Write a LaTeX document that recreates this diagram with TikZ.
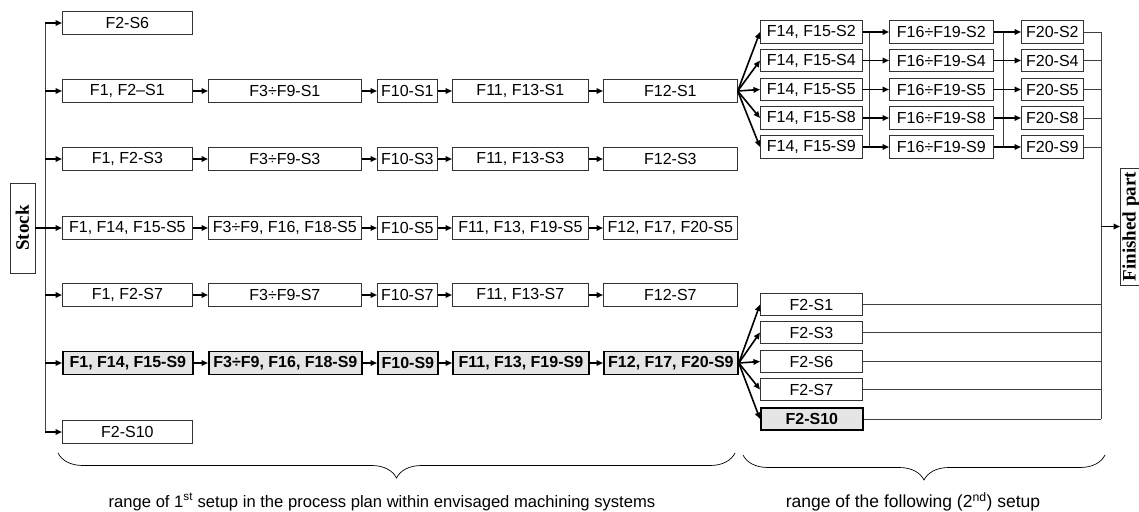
\documentclass[tikz,border=0pt]{standalone}
\usepackage{fontspec}
\setmainfont{Liberation Sans}
\newfontfamily\serifface{Liberation Serif}
\usetikzlibrary{arrows.meta,decorations.pathreplacing}

\tikzset{
  op/.style={draw=black!80, line width=0.7pt, anchor=west, inner sep=0pt,
    minimum height=23pt, font=\fontsize{16}{16}\selectfont},
  opbest/.style={op, draw=black, line width=1.8pt, fill=black!10,
    font=\fontsize{16}{16}\selectfont\bfseries},
  endbox/.style={draw=black!80, line width=0.7pt, rotate=90, inner sep=2pt,
    font=\serifface\bfseries\fontsize{19}{19}\selectfont},
  flow/.style={line width=1.6pt, -{Triangle[length=6.5pt,width=5.5pt]}},
  bus/.style={line width=0.7pt, draw=black!75},
  rng/.style={decorate, decoration={brace, amplitude=25pt, mirror}, line width=0.7pt},
}

\begin{document}
\begin{tikzpicture}[x=1pt, y=-1pt]
  \clip (0,0) rectangle (1139,511);
  % stock and first setup
  \node[endbox, minimum width=90pt, minimum height=25pt, inner sep=0pt] (stock) at (22.5,228) {Stock};
  \node[op, minimum width=130pt] (s6) at (62,23) {F2-S6};

  \node[op, minimum width=130pt] (s1a) at (62,91) {F1, F2--S1};
  \node[op, minimum width=153pt] (s1b) at (208,91) {F3÷F9-S1};
  \node[op, minimum width=60pt] (s1c) at (377,91) {F10-S1};
  \node[op, minimum width=136pt] (s1d) at (452,91) {F11, F13-S1};
  \node[op, minimum width=134pt] (s1e) at (603,91) {F12-S1};

  \node[op, minimum width=130pt] (s3a) at (62,159) {F1, F2-S3};
  \node[op, minimum width=153pt] (s3b) at (208,159) {F3÷F9-S3};
  \node[op, minimum width=60pt] (s3c) at (377,159) {F10-S3};
  \node[op, minimum width=136pt] (s3d) at (452,159) {F11, F13-S3};
  \node[op, minimum width=134pt] (s3e) at (603,159) {F12-S3};

  \node[op, minimum width=130pt] (s5a) at (62,228) {F1, F14, F15-S5};
  \node[op, minimum width=153pt] (s5b) at (208,228) {F3÷F9, F16, F18-S5};
  \node[op, minimum width=60pt] (s5c) at (377,228) {F10-S5};
  \node[op, minimum width=136pt] (s5d) at (452,228) {F11, F13, F19-S5};
  \node[op, minimum width=134pt] (s5e) at (603,228) {F12, F17, F20-S5};

  \node[op, minimum width=130pt] (s7a) at (62,295) {F1, F2-S7};
  \node[op, minimum width=153pt] (s7b) at (208,295) {F3÷F9-S7};
  \node[op, minimum width=60pt] (s7c) at (377,295) {F10-S7};
  \node[op, minimum width=136pt] (s7d) at (452,295) {F11, F13-S7};
  \node[op, minimum width=134pt] (s7e) at (603,295) {F12-S7};

  \node[opbest, minimum width=130pt] (s9a) at (62,363) {F1, F14, F15-S9};
  \node[opbest, minimum width=153pt] (s9b) at (208,363) {F3÷F9, F16, F18-S9};
  \node[opbest, minimum width=60pt] (s9c) at (377,363) {F10-S9};
  \node[opbest, minimum width=136pt] (s9d) at (452,363) {F11, F13, F19-S9};
  \node[opbest, minimum width=134pt] (s9e) at (603,363) {F12, F17, F20-S9};

  \node[op, minimum width=130pt] (s10) at (62,432) {F2-S10};

  % second setup, upper group
  \node[op, minimum width=102pt, minimum height=22.5pt] (t2a) at (760,32) {F14, F15-S2};
  \node[op, minimum width=104pt, minimum height=22.5pt] (t2b) at (889,32) {F16÷F19-S2};
  \node[op, minimum width=62pt, minimum height=22.5pt] (t2c) at (1021,32) {F20-S2};
  \node[op, minimum width=102pt, minimum height=22.5pt] (t4a) at (760,60.5) {F14, F15-S4};
  \node[op, minimum width=104pt, minimum height=22.5pt] (t4b) at (889,60.5) {F16÷F19-S4};
  \node[op, minimum width=62pt, minimum height=22.5pt] (t4c) at (1021,60.5) {F20-S4};
  \node[op, minimum width=102pt, minimum height=22.5pt] (t5a) at (760,89.5) {F14, F15-S5};
  \node[op, minimum width=104pt, minimum height=22.5pt] (t5b) at (889,89.5) {F16÷F19-S5};
  \node[op, minimum width=62pt, minimum height=22.5pt] (t5c) at (1021,89.5) {F20-S5};
  \node[op, minimum width=102pt, minimum height=22.5pt] (t8a) at (760,118) {F14, F15-S8};
  \node[op, minimum width=104pt, minimum height=22.5pt] (t8b) at (889,118) {F16÷F19-S8};
  \node[op, minimum width=62pt, minimum height=22.5pt] (t8c) at (1021,118) {F20-S8};
  \node[op, minimum width=102pt, minimum height=22.5pt] (t9a) at (760,147) {F14, F15-S9};
  \node[op, minimum width=104pt, minimum height=22.5pt] (t9b) at (889,147) {F16÷F19-S9};
  \node[op, minimum width=62pt, minimum height=22.5pt] (t9c) at (1021,147) {F20-S9};

  % second setup, lower group
  \node[op, minimum width=102pt, minimum height=22.5pt] (b1) at (760,304.5) {F2-S1};
  \node[op, minimum width=102pt, minimum height=22.5pt] (b3) at (760,332.5) {F2-S3};
  \node[op, minimum width=102pt, minimum height=22.5pt] (b6) at (760,361.5) {F2-S6};
  \node[op, minimum width=102pt, minimum height=22.5pt] (b7) at (760,389.5) {F2-S7};
  \node[opbest, minimum width=102pt, minimum height=22.5pt] (b10) at (760,419) {F2-S10};

  \node[endbox, minimum width=117pt, anchor=north] (fin) at (1120,226.5) {Finished part};

  % left bus
  \coordinate (lt) at (45,23);
  \coordinate (lb) at (45,432);
  \draw[bus] (lt) -- (lb);
  \draw[flow] (lt) -- (s6.west);
  \draw[flow] (s1a -| lt) -- (s1a.west);
  \draw[flow] (s3a -| lt) -- (s3a.west);
  \draw[flow] (stock) -- (s5a);
  \draw[flow] (s7a -| lt) -- (s7a.west);
  \draw[flow] (s9a -| lt) -- (s9a.west);
  \draw[flow] (lb) -- (s10.west);

  % rows
  \draw[flow] (s1a) -- (s1b);
  \draw[flow] (s1b) -- (s1c);
  \draw[flow] (s1c) -- (s1d);
  \draw[flow] (s1d) -- (s1e);
  \draw[flow] (s3a) -- (s3b);
  \draw[flow] (s3b) -- (s3c);
  \draw[flow] (s3c) -- (s3d);
  \draw[flow] (s3d) -- (s3e);
  \draw[flow] (s5a) -- (s5b);
  \draw[flow] (s5b) -- (s5c);
  \draw[flow] (s5c) -- (s5d);
  \draw[flow] (s5d) -- (s5e);
  \draw[flow] (s7a) -- (s7b);
  \draw[flow] (s7b) -- (s7c);
  \draw[flow] (s7c) -- (s7d);
  \draw[flow] (s7d) -- (s7e);
  \draw[flow] (s9a) -- (s9b);
  \draw[flow] (s9b) -- (s9c);
  \draw[flow] (s9c) -- (s9d);
  \draw[flow] (s9d) -- (s9e);

  % fans into the second setup
  \draw[flow] (s1e.east) -- (t2a.west);
  \draw[flow] (s1e.east) -- (t4a.west);
  \draw[flow] (s1e.east) -- (t5a.west);
  \draw[flow] (s1e.east) -- (t8a.west);
  \draw[flow] (s1e.east) -- (t9a.west);
  \draw[flow] (s9e.east) -- (b1.west);
  \draw[flow] (s9e.east) -- (b3.west);
  \draw[flow] (s9e.east) -- (b6.west);
  \draw[flow] (s9e.east) -- (b7.west);
  \draw[flow] (s9e.east) -- (b10.west);

  % upper group buses
  \coordinate (m1t) at (869,32);
  \coordinate (m1b) at (869,147);
  \coordinate (m2t) at (1003,32);
  \coordinate (m2b) at (1003,147);
  \draw[bus] (m1t) -- (m1b);
  \draw[bus] (m2t) -- (m2b);
  \draw[flow] (t2a) -- (t2b);
  \draw[flow] (t4a) -- (t4b);
  \draw[flow] (t5a) -- (t5b);
  \draw[flow] (t8a) -- (t8b);
  \draw[flow] (t9a) -- (t9b);
  \draw[flow] (t2b) -- (t2c);
  \draw[flow] (t4b) -- (t4c);
  \draw[flow] (t5b) -- (t5c);
  \draw[flow] (t8b) -- (t8c);
  \draw[flow] (t9b) -- (t9c);

  % right bus
  \coordinate (rt) at (1101,32);
  \coordinate (rb) at (1101,419);
  \draw[bus] (rt) -- (rb);
  \draw[bus] (t2c.east) -- (rt);
  \draw[bus] (t4c.east) -- (t4c -| rt);
  \draw[bus] (t5c.east) -- (t5c -| rt);
  \draw[bus] (t8c.east) -- (t8c -| rt);
  \draw[bus] (t9c.east) -- (t9c -| rt);
  \draw[bus] (b1.east) -- (b1 -| rt);
  \draw[bus] (b3.east) -- (b3 -| rt);
  \draw[bus] (b6.east) -- (b6 -| rt);
  \draw[bus] (b7.east) -- (b7 -| rt);
  \draw[bus] (b10.east) -- (rb);
  \draw[flow] (fin -| rt) -- (fin.north);

  % ranges
  \coordinate (r1l) at (58,453);
  \coordinate (r1r) at (735,453);
  \coordinate (r2l) at (743,455);
  \coordinate (r2r) at (1105,455);
  \draw[rng] (r1l) -- (r1r);
  \draw[rng] (r2l) -- (r2r);
  \node[font=\fontsize{16.6}{18}\selectfont] (lab1) at (382,502) {range of 1\textsuperscript{st} setup in the process plan within envisaged machining systems};
  \node[font=\fontsize{17.5}{18}\selectfont] (lab2) at (913,502) {range of the following (2\textsuperscript{nd}) setup};
\end{tikzpicture}
\end{document}
